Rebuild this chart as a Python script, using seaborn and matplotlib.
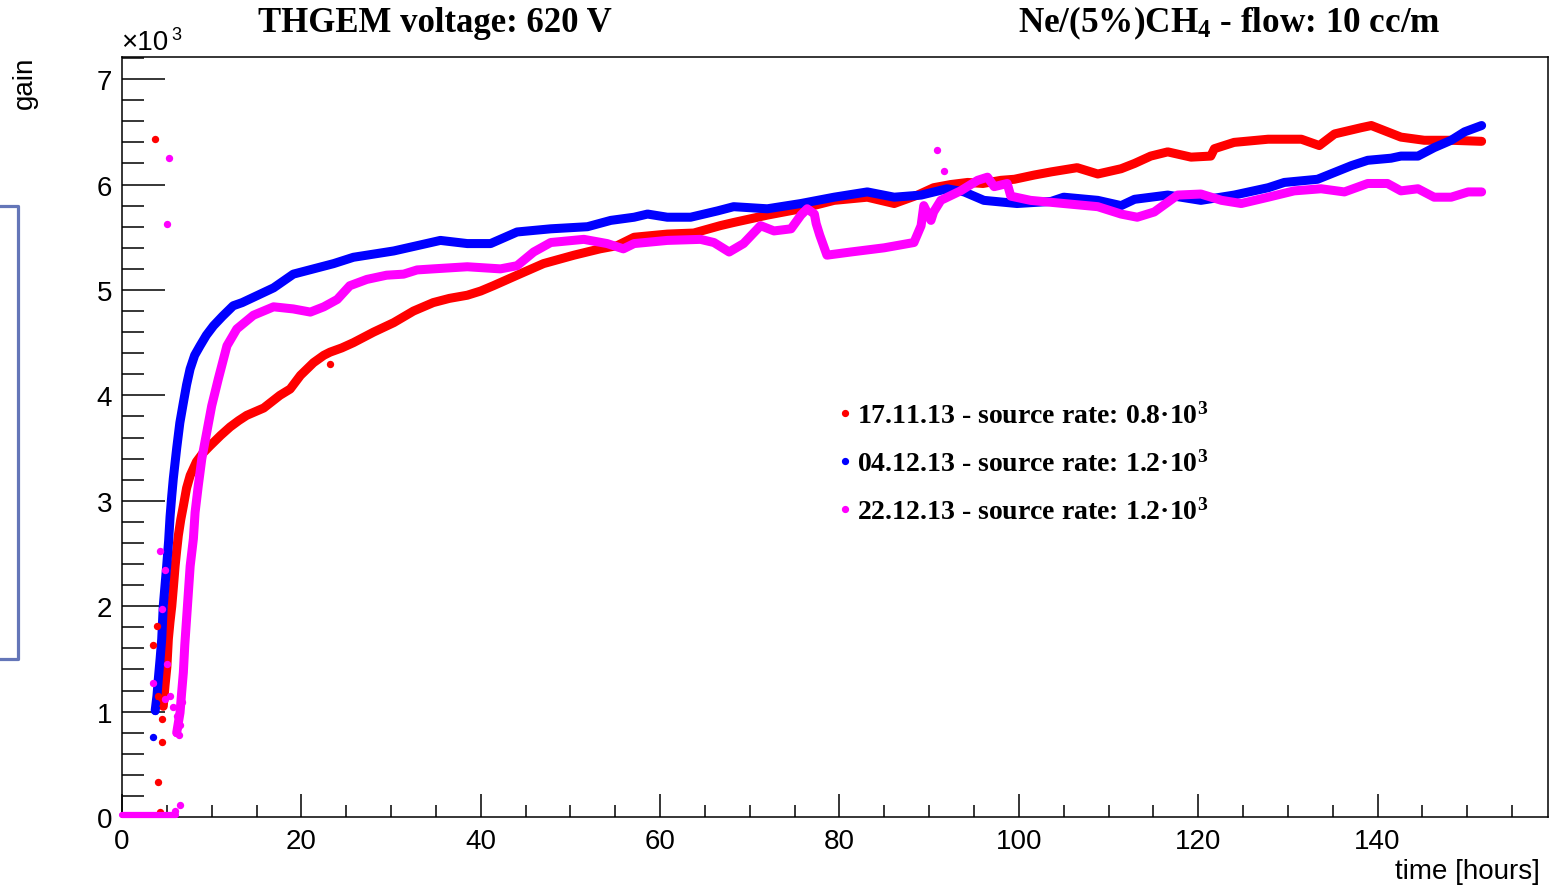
import matplotlib
matplotlib.use("Agg")
import matplotlib.pyplot as plt
import seaborn as sns
import numpy as np
import pandas as pd
from matplotlib.lines import Line2D
from matplotlib.patches import Rectangle
from matplotlib.ticker import MultipleLocator

# ---------------- data (time [hours], gain [x10^3]) ----------------
red_t = [4.6, 4.8, 5.0, 5.17, 5.35, 5.55, 5.75, 5.92, 6.1, 6.28, 6.55, 6.84, 7.2, 7.6, 8.3, 9.0, 9.8,
         11.0, 12.05, 13.0, 13.9, 15.8, 17.6, 18.75, 19.9, 21.35, 22.5, 23.2, 24.5, 25.8, 28.05, 30.3,
         32.5, 34.7, 36.5, 38.5, 40.0, 41.4, 44.05, 47.0, 50.4, 53.3, 55.2, 57.1, 60.8, 63.75, 66.7,
         68.2, 71.95, 75.7, 79.4, 83.1, 86.1, 88.7, 90.5, 92.4, 94.3, 96.0, 98.0, 99.5, 101.7, 103.6,
         106.5, 108.8, 111.4, 112.9, 114.7, 116.6, 119.2, 121.4, 121.8, 124.0, 127.8, 131.5, 133.5,
         135.2, 138.2, 139.3, 141.1, 142.6, 145.2, 148.2, 151.6]
red_g = [1.05, 1.25, 1.42, 1.69, 1.85, 2.0, 2.2, 2.38, 2.53, 2.67, 2.82, 2.95, 3.12, 3.24, 3.37, 3.45, 3.52,
         3.62, 3.70, 3.76, 3.81, 3.88, 4.0, 4.06, 4.19, 4.31, 4.38, 4.41, 4.45, 4.50, 4.60, 4.69,
         4.80, 4.88, 4.92, 4.95, 4.99, 5.04, 5.14, 5.25, 5.33, 5.39, 5.42, 5.50, 5.53, 5.54, 5.61,
         5.64, 5.71, 5.77, 5.85, 5.88, 5.82, 5.90, 5.97, 6.00, 6.02, 6.01, 6.04, 6.05, 6.09, 6.12,
         6.16, 6.10, 6.15, 6.20, 6.27, 6.31, 6.26, 6.27, 6.34, 6.40, 6.43, 6.43, 6.37,
         6.48, 6.54, 6.56, 6.50, 6.45, 6.42, 6.42, 6.41]
red_pts_t = [3.7, 3.5, 3.87, 4.05, 4.43, 4.43, 4.05, 4.2, 4.3, 4.1, 23.2]
red_pts_g = [6.43, 1.63, 1.81, 1.15, 0.93, 0.71, 0.33, 0.05, 1.08, 1.12, 4.30]

blue_t = [3.7, 3.9, 4.05, 4.25, 4.43, 4.6, 4.8, 4.98, 5.2, 5.36, 5.55, 5.72, 6.1, 6.45, 6.84, 7.2, 7.59,
          8.1, 8.7, 9.4, 10.2, 11.2, 12.4, 13.4, 14.65, 16.9, 19.1, 21.35, 23.6, 25.8, 28.05, 30.3,
          32.9, 35.5, 38.5, 41.1, 44.05, 47.8, 51.9, 54.5, 57.1, 58.6, 60.8, 63.4, 66.4, 68.2, 71.95,
          75.7, 79.4, 83.1, 86.1, 89.1, 92.0, 93.9, 96.1, 99.8, 103.6, 105.0, 108.8, 111.4, 112.9,
          116.6, 120.3, 124.0, 127.8, 129.6, 133.3, 137.1, 138.9, 141.5, 142.6, 144.5, 146.3, 148.2,
          149.7, 151.6]
blue_g = [1.01, 1.15, 1.31, 1.5, 1.69, 2.0, 2.2, 2.38, 2.62, 2.85, 3.05, 3.21, 3.50, 3.74, 3.93, 4.10, 4.25,
          4.38, 4.47, 4.57, 4.66, 4.75, 4.85, 4.88, 4.93, 5.02, 5.15, 5.20, 5.25, 5.31, 5.34, 5.37,
          5.42, 5.47, 5.44, 5.44, 5.55, 5.58, 5.60, 5.66, 5.69, 5.72, 5.69, 5.69, 5.75, 5.79, 5.77,
          5.82, 5.88, 5.93, 5.88, 5.90, 5.96, 5.93, 5.85, 5.82, 5.84, 5.88, 5.85, 5.80, 5.86,
          5.90, 5.85, 5.90, 5.97, 6.02, 6.05, 6.18, 6.23, 6.25, 6.27, 6.27, 6.35, 6.42,
          6.50, 6.56]
blue_pts_t = [3.5, 3.7, 3.75]
blue_pts_g = [0.76, 1.01, 1.08]

mag_t = [6.1, 6.47, 6.65, 6.84, 7.0, 7.2, 7.4, 7.6, 7.96, 8.15, 8.5, 8.9, 9.45, 10.0, 10.75, 11.7,
         12.8, 14.65, 16.9, 19.1, 21.0, 22.5, 24.0, 25.4, 27.3, 29.5, 31.4, 32.9, 34.7, 38.5, 42.2,
         44.05, 45.9, 47.8, 51.5, 54.1, 55.9, 57.1, 60.8, 64.5, 66.0, 67.7, 69.3, 71.2, 72.7, 74.6,
         75.7, 76.4, 77.2, 77.4, 77.8, 78.6, 81.25, 85.0, 88.3, 89.1, 89.4, 90.2, 90.5, 91.3, 93.5,
         95.4, 96.5, 97.25, 98.7, 99.1, 101.3, 105.0, 108.8, 111.4, 113.2, 115.1, 117.7, 120.3,
         122.6, 124.8, 127.8, 130.7, 133.7, 136.3, 138.9, 141.1, 142.6, 144.5, 146.3, 148.2, 150.1,
         151.6]
mag_g = [0.80, 0.99, 1.18, 1.37, 1.63, 1.88, 2.13, 2.38, 2.64, 2.89, 3.14, 3.40, 3.65, 3.90, 4.16, 4.47,
         4.63, 4.76, 4.84, 4.82, 4.79, 4.84, 4.91, 5.04, 5.10, 5.14, 5.15, 5.19, 5.20, 5.22, 5.20,
         5.23, 5.36, 5.45, 5.48, 5.44, 5.39, 5.44, 5.47, 5.48, 5.45, 5.36, 5.44, 5.61, 5.56, 5.58,
         5.71, 5.77, 5.72, 5.63, 5.52, 5.33, 5.36, 5.40, 5.45, 5.61, 5.80, 5.66, 5.74, 5.85, 5.94,
         6.04, 6.07, 5.98, 6.01, 5.89, 5.85, 5.82, 5.79, 5.72, 5.69, 5.74, 5.90, 5.91,
         5.85, 5.82, 5.88, 5.94, 5.96, 5.93, 6.01, 6.01, 5.94, 5.96, 5.88, 5.88, 5.93,
         5.93]
mag_pts_t = [5.28, 4.98, 4.24, 4.8, 4.43, 4.98, 3.5, 4.8, 5.36, 5.72, 6.1, 6.47, 6.65, 6.0, 6.3, 6.2,
             5.9, 6.5, 90.9, 91.6]
mag_pts_g = [6.25, 5.63, 2.52, 2.34, 1.97, 1.45, 1.27, 1.12, 1.15, 1.04, 0.96, 0.87, 1.09, 0.80, 0.78, 0.85,
             0.06, 0.11, 6.33, 6.13]
mag_zero_t = [0.0, 1.0, 2.0, 3.0, 4.0, 5.0, 6.0]
mag_zero_g = [0.02, 0.02, 0.02, 0.02, 0.02, 0.02, 0.02]

labels = ["17.11.13 - source rate: 0.8\u00b710$^{3}$",
          "04.12.13 - source rate: 1.2\u00b710$^{3}$",
          "22.12.13 - source rate: 1.2\u00b710$^{3}$"]
colors = ["#ff0000", "#0000ff", "#ff00ff"]

# ---------------- style ----------------
sns.set_style("white")
plt.rcParams["font.family"] = ["Liberation Sans", "DejaVu Sans"]
plt.rcParams["text.color"] = "black"
plt.rcParams["mathtext.fontset"] = "custom"
plt.rcParams["mathtext.rm"] = "Liberation Serif:bold"
plt.rcParams["mathtext.it"] = "Liberation Serif:bold"
plt.rcParams["mathtext.bf"] = "Liberation Serif:bold"

W, H = 1556, 887
fig = plt.figure(figsize=(W / 100, H / 100), dpi=100)
ax = fig.add_axes([122 / W, 1 - 818 / H, (1548 - 122) / W, (818 - 58) / H])

series = [(red_t, red_g, red_pts_t, red_pts_g),
          (blue_t, blue_g, blue_pts_t, blue_pts_g),
          (mag_t, mag_g, mag_pts_t, mag_pts_g)]
for (lt, lg, pt, pg), c in zip(series, colors):
    sns.lineplot(x=lt, y=lg, ax=ax, color=c, lw=6.5, sort=False, estimator=None,
                 solid_capstyle="round", solid_joinstyle="round", zorder=3)
    sns.scatterplot(x=pt, y=pg, ax=ax, color=c, s=28, linewidth=0, zorder=4)
sns.lineplot(x=mag_zero_t, y=mag_zero_g, ax=ax, color=colors[2], lw=4.5, sort=False,
             estimator=None, solid_capstyle="round", zorder=4, clip_on=False)

ax.set_xlim(0, 159)
ax.set_ylim(0, 7.21)
ax.xaxis.set_major_locator(MultipleLocator(20))
ax.xaxis.set_minor_locator(MultipleLocator(5))
ax.yaxis.set_major_locator(MultipleLocator(1))
ax.yaxis.set_minor_locator(MultipleLocator(0.2))
ax.set_xticks(range(0, 141, 20))
ax.tick_params(axis="both", which="both", direction="in", width=1.1, color="black",
               labelsize=20, labelcolor="black")
ax.tick_params(axis="y", which="major", length=31, pad=7, left=True, right=False)
ax.tick_params(axis="y", which="minor", length=16, left=True, right=False)
ax.tick_params(axis="x", which="major", length=16.5, pad=8, bottom=True, top=False)
ax.tick_params(axis="x", which="minor", length=8.6, bottom=True, top=False)
for s in ax.spines.values():
    s.set_visible(True)
    s.set_color("black")
    s.set_linewidth(1.1)
ax.set_xlabel("")
ax.set_ylabel("")
ax.grid(False)

# axis titles
fig.text(1540 / W, 1 - 872 / H, "time [hours]", ha="right", va="center", fontsize=20)
fig.text(25 / W, 1 - 57 / H, "gain", rotation=90, ha="center", va="top", fontsize=20)
fig.text(121 / W, 1 - 43 / H, "\u00d710", ha="left", va="center", fontsize=20)
fig.text(171 / W, 1 - 35 / H, "3", ha="left", va="center", fontsize=13)

# top titles
serif_bold = dict(family=["Liberation Serif", "DejaVu Serif"], weight="bold")
fig.text(258 / W, 1 - 23 / H, "THGEM voltage: 620 V", ha="left", va="center",
         fontsize=25, **serif_bold)
fig.text(1018 / W, 1 - 23 / H, "Ne/(5%)CH$_{4}$ - flow: 10 cc/m", ha="left", va="center",
         fontsize=25.3, **serif_bold)

# legend
handles = [Line2D([0], [0], marker="o", linestyle="none", color=c, markersize=4.2) for c in colors]
leg = fig.legend(handles, labels, loc="upper left", bbox_to_anchor=(839 / W, 1 - 403 / H),
                 frameon=False, handlelength=0.4, handletextpad=0.25, labelspacing=0.77,
                 borderpad=0, borderaxespad=0, labelcolor="black",
                 prop=dict(family="Liberation Serif", weight="bold", size=20))

# blue bracket at left edge
fig.patches.append(Rectangle((-30, H - 660), 48, 453, transform=None, fill=False,
                             edgecolor="#6476b8", lw=2.3, joinstyle="round", figure=fig))

fig.savefig("out.png", dpi=100)
